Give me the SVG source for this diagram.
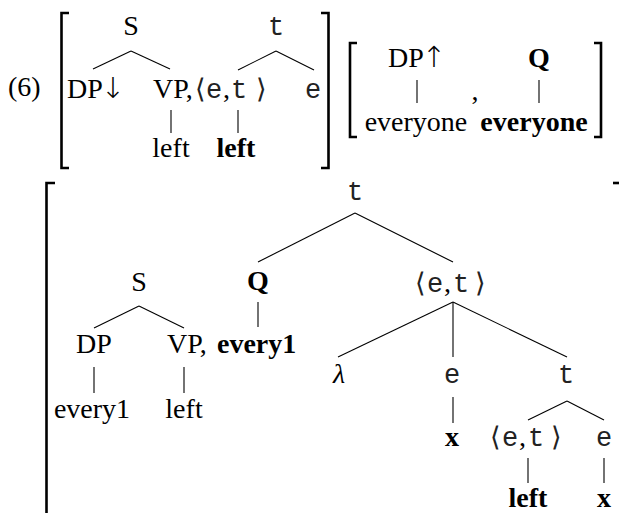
<svg xmlns="http://www.w3.org/2000/svg" width="619" height="513" viewBox="0 0 619 513">
<style>
text{font-family:"Liberation Serif","Times New Roman",serif;font-size:28px;fill:#000}
.b{font-weight:bold}
.mid{text-anchor:middle}
.tt{font-family:"Liberation Mono","Courier New",monospace;font-size:27px;fill:#222}
.ang{font-family:"DejaVu Sans","Noto Sans",sans-serif;font-size:27px;font-weight:200;fill:#222}
.arr{font-family:"DejaVu Sans","Noto Sans",sans-serif;font-size:29px;font-weight:200;fill:#000}
.cm{font-family:"Liberation Serif",serif;font-size:28px;fill:#000}
.lam{font-family:"Liberation Serif",serif;font-style:italic}
.edge line{stroke:#000;stroke-width:1.1;fill:none}
.brk{stroke:#000;stroke-width:2.6;fill:none}
</style>
<rect width="619" height="513" fill="#fff"/>
<text id="label6" x="8" y="96">(6)</text>
<g id="brackets">
<path class="brk" d="M69,13 H61.5 V168 H69"/>
<path class="brk" d="M321,13 H328.5 V168 H321"/>
<path class="brk" d="M357,43 H350 V137 H357"/>
<path class="brk" d="M594,43 H601 V137 H594"/>
<path class="brk" d="M55,183 H46.5 V520"/>
<path class="brk" d="M613,183 H619"/>
</g>
<g class="edge" id="connectors">
<line x1="131" y1="51" x2="93" y2="69"/>
<line x1="131" y1="51" x2="170" y2="69"/>
<line x1="276" y1="51" x2="238" y2="70"/>
<line x1="276" y1="51" x2="314" y2="70"/>
<line x1="171" y1="110" x2="171" y2="133"/>
<line x1="238" y1="110" x2="238" y2="133"/>
<line x1="417" y1="80" x2="417" y2="103"/>
<line x1="539" y1="80" x2="539" y2="103"/>
<line x1="355" y1="213" x2="258" y2="262"/>
<line x1="355" y1="213" x2="453" y2="262"/>
<line x1="258" y1="302" x2="258" y2="327"/>
<line x1="139" y1="306" x2="94" y2="328"/>
<line x1="139" y1="306" x2="184" y2="328"/>
<line x1="94" y1="367" x2="94" y2="393"/>
<line x1="184" y1="367" x2="184" y2="393"/>
<line x1="453" y1="302" x2="338" y2="357"/>
<line x1="453" y1="302" x2="453" y2="357"/>
<line x1="453" y1="302" x2="567" y2="357"/>
<line x1="453" y1="397" x2="453" y2="423"/>
<line x1="567" y1="401" x2="528" y2="420"/>
<line x1="567" y1="401" x2="604" y2="420"/>
<line x1="528" y1="458" x2="528" y2="483"/>
<line x1="604" y1="458" x2="604" y2="483"/>
</g>
<g id="n-S1"><text class="mid" x="131" y="35">S</text></g>
<g id="n-DPdown"><text x="67" y="98">DP<tspan class="arr" dx="-2">↓</tspan></text></g>
<g id="n-VP1"><text x="153" y="98">VP,</text></g>
<g id="n-et1"><text><tspan class="ang" x="195" y="98">⟨</tspan><tspan class="tt" x="206" y="98">e</tspan><tspan class="cm" x="223" y="98">,</tspan><tspan class="tt" x="231" y="98">t</tspan><tspan class="ang" x="256" y="98">⟩</tspan></text></g>
<g id="n-t1"><text class="tt mid" x="276" y="35">t</text></g>
<g id="n-e1"><text class="tt mid" x="313" y="98">e</text></g>
<g id="n-left1"><text class="mid" x="171" y="157">left</text></g>
<g id="n-left1b"><text class="mid b" x="236" y="157">left</text></g>
<g id="n-DPup"><text class="mid" x="417" y="67">DP<tspan class="arr" dx="-2">↑</tspan></text></g>
<g id="n-Q1"><text class="mid b" x="539" y="67">Q</text></g>
<g id="n-comma"><text class="mid" x="475" y="100">,</text></g>
<g id="n-everyone"><text class="mid" x="416" y="131">everyone</text></g>
<g id="n-everyoneb"><text class="mid b" x="534" y="131">everyone</text></g>
<g id="n-t2"><text class="tt mid" x="355" y="200">t</text></g>
<g id="n-S2"><text class="mid" x="139" y="291">S</text></g>
<g id="n-Q2"><text class="mid b" x="258" y="290">Q</text></g>
<g id="n-et2"><text><tspan class="ang" x="415" y="292">⟨</tspan><tspan class="tt" x="427" y="292">e</tspan><tspan class="cm" x="444" y="292">,</tspan><tspan class="tt" x="453" y="292">t</tspan><tspan class="ang" x="475" y="292">⟩</tspan></text></g>
<g id="n-DP2"><text class="mid" x="94" y="353">DP</text></g>
<g id="n-VP2"><text x="167" y="353">VP,</text></g>
<g id="n-every1b"><text class="b" x="217" y="353">every1</text></g>
<g id="n-every1"><text class="mid" x="92" y="418">every1</text></g>
<g id="n-left2"><text class="mid" x="184" y="418">left</text></g>
<g id="n-lambda"><text class="mid lam" x="339" y="383">λ</text></g>
<g id="n-e2"><text class="tt mid" x="452" y="383">e</text></g>
<g id="n-t3"><text class="tt mid" x="566" y="383">t</text></g>
<g id="n-x1"><text class="mid b" x="452" y="446">x</text></g>
<g id="n-et3"><text><tspan class="ang" x="490" y="446">⟨</tspan><tspan class="tt" x="502" y="446">e</tspan><tspan class="cm" x="519" y="446">,</tspan><tspan class="tt" x="528" y="446">t</tspan><tspan class="ang" x="551" y="446">⟩</tspan></text></g>
<g id="n-e3"><text class="tt mid" x="604" y="446">e</text></g>
<g id="n-left3"><text class="mid b" x="528" y="507">left</text></g>
<g id="n-x2"><text class="mid b" x="604" y="507">x</text></g>
</svg>
